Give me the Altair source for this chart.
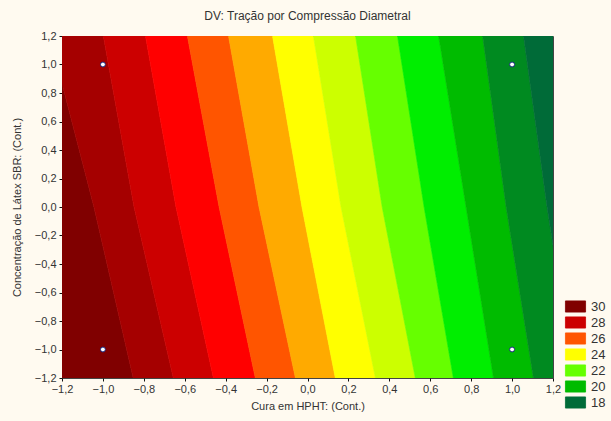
import altair as alt
import pandas as pd

# ---- data ----
ticks = [-1.2, -1.0, -0.8, -0.6, -0.4, -0.2, 0.0, 0.2, 0.4, 0.6, 0.8, 1.0, 1.2]

# contour bands (lower bound of each 1-unit interval), left to right
bands = ["30", "29", "28", "27", "26", "25", "24", "23", "22", "21", "20", "19", "18"]
band_colors = ["#800000", "#A50000", "#CC0000", "#FF0000", "#FF5500", "#FFAA00",
               "#FFFF00", "#CCFF00", "#66FF00", "#00EE00", "#00BB00", "#008A20", "#006B38"]
legend_levels = ["30", "28", "26", "24", "22", "20", "18"]

# x position of contour lines z = 30, 29, ..., 19 at three heights
boundary_levels = [30, 29, 28, 27, 26, 25, 24, 23, 22, 21, 20, 19]
boundary_y = [1.2, 0.0, -1.2]
boundary_x_top = [-1.26, -0.998, -0.792, -0.587, -0.386, -0.171, 0.029, 0.235, 0.440, 0.641, 0.856, 1.056]
boundary_x_mid = [-1.044, -0.848, -0.643, -0.432, -0.237, -0.027, 0.164, 0.365, 0.570, 0.775, 0.971, 1.171]
boundary_x_bot = [-0.852, -0.656, -0.460, -0.255, -0.059, 0.136, 0.332, 0.527, 0.713, 0.909, 1.104, 1.300]

# design points
design_x = [-1.0, 1.0, -1.0, 1.0]
design_y = [1.0, 1.0, -1.0, -1.0]

rows = []
for yv, bx in zip(boundary_y, [boundary_x_top, boundary_x_mid, boundary_x_bot]):
    edges = [-1.3] + bx + [1.3]
    for k, b in enumerate(bands):
        rows.append({"band": b, "y": yv, "x": edges[k], "x2": edges[k + 1]})
band_df = pd.DataFrame(rows)
pts_df = pd.DataFrame({"x": design_x, "y": design_y})

FONT = "Liberation Sans"
label_expr = "replace(format(datum.value, '.1f'), '.', ',')"

xscale = alt.Scale(domain=[-1.2, 1.2], nice=False, zero=False)
yscale = alt.Scale(domain=[-1.2, 1.2], nice=False, zero=False)
cscale = alt.Scale(domain=bands, range=band_colors)

x_axis = alt.Axis(values=ticks, labelExpr=label_expr, grid=False, domain=False,
                  tickSize=3, tickColor="#111", labelPadding=2, labelFont=FONT,
                  labelFontSize=11, labelColor="#333", title="Cura em HPHT: (Cont.)",
                  titleFont=FONT, titleFontSize=11, titleFontWeight="normal",
                  titleColor="#333", titlePadding=6, labelFlush=False,
                  labelOverlap=False)
y_axis = alt.Axis(values=ticks, labelExpr=label_expr, grid=False, domain=False,
                  tickSize=3, tickColor="#111", labelPadding=3, labelFont=FONT,
                  labelFontSize=11, labelColor="#333",
                  title="Concentração de Látex SBR: (Cont.)",
                  titleFont=FONT, titleFontSize=11, titleFontWeight="normal",
                  titleColor="#333", titlePadding=12, labelFlush=False,
                  labelOverlap=False)

legend = alt.Legend(
    values=legend_levels, title=None, orient="none", legendX=505, legendY=262,
    symbolType="M-1.3,-0.72H1.3V0.72H-1.3Z", symbolSize=240, rowPadding=0,
    padding=0, labelOffset=7, labelFont=FONT, labelFontSize=13, labelColor="#333",
    symbolStrokeColor="#222", symbolStrokeWidth=0.8, symbolOpacity=1,
)

area = alt.Chart(band_df).mark_area(orient="horizontal", clip=True, opacity=1,
                                    strokeWidth=0.6).encode(
    y=alt.Y("y:Q", scale=yscale, axis=y_axis),
    x=alt.X("x:Q", scale=xscale, axis=x_axis, stack=None),
    x2="x2:Q",
    color=alt.Color("band:N", scale=cscale, legend=legend),
    stroke=alt.Stroke("band:N", scale=cscale, legend=None),
)

points = alt.Chart(pts_df).mark_point(shape="circle", filled=True, fill="white",
                                      stroke="#1a2a80", strokeWidth=1, size=24,
                                      opacity=1).encode(
    x=alt.X("x:Q", scale=xscale, axis=x_axis),
    y=alt.Y("y:Q", scale=yscale, axis=y_axis),
)

chart = alt.layer(area, points).properties(
    width=491, height=342,
    title=alt.TitleParams("DV: Tração por Compressão Diametral", font=FONT,
                          fontSize=12, fontWeight="normal", color="#333",
                          anchor="middle", offset=7),
    autosize=alt.AutoSizeParams(type="none"),
    padding={"left": 62, "top": 36, "right": 58, "bottom": 43},
    background="#FFFAF0",
).configure_view(stroke="#444", strokeWidth=1)

chart.save("out.html", embed_options={"renderer": "svg", "actions": False})
